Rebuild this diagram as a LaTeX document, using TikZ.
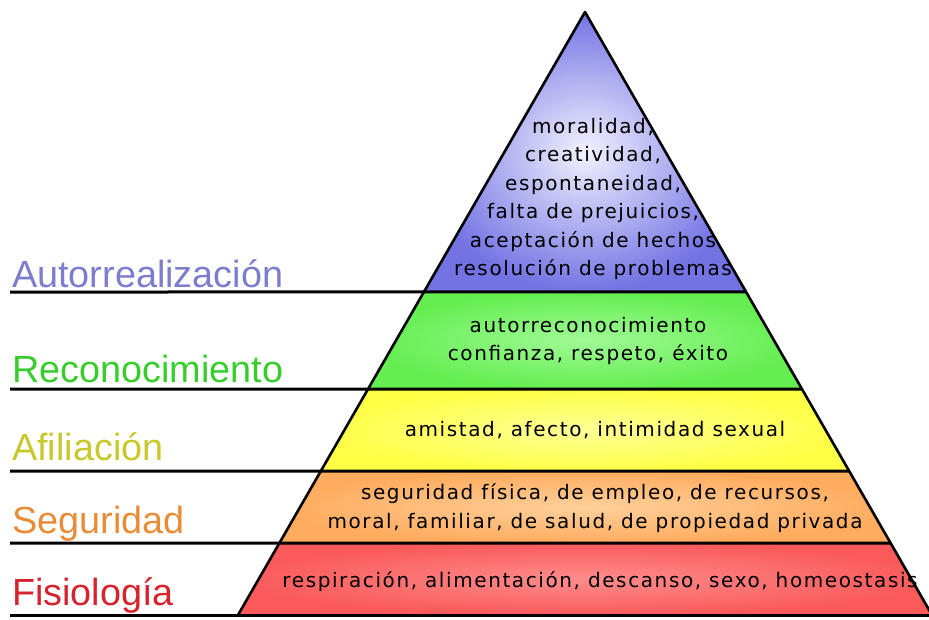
\documentclass[tikz,border=0pt]{standalone}
\usepackage{fontspec}
\setmainfont{DejaVu Sans}[LetterSpace=8]
\newfontfamily\labelfont{Liberation Sans}
\usetikzlibrary{calc}
\definecolor{blueO}{RGB}{115,115,228}
\definecolor{blueI}{RGB}{242,242,255}
\definecolor{greenO}{RGB}{100,238,80}
\definecolor{greenI}{RGB}{160,250,150}
\definecolor{yellowO}{RGB}{255,255,70}
\definecolor{yellowI}{RGB}{255,255,150}
\definecolor{orangeO}{RGB}{255,172,95}
\definecolor{orangeI}{RGB}{255,208,155}
\definecolor{redO}{RGB}{250,90,90}
\definecolor{redI}{RGB}{255,140,140}
\definecolor{lblBlue}{RGB}{125,125,205}
\definecolor{lblGreen}{RGB}{55,205,45}
\definecolor{lblYellow}{RGB}{200,200,45}
\definecolor{lblOrange}{RGB}{232,140,55}
\definecolor{lblRed}{RGB}{215,35,45}
\begin{document}
\begin{tikzpicture}[x=1pt,y=-1pt,
  levelline/.style={line width=3pt,black},
  edge/.style={line width=2.6pt,black,line cap=round,line join=round},
  lvltext/.style={align=center,font=\fontsize{20}{28.4}\selectfont,inner sep=0pt},
  lbl/.style={anchor=base west,inner sep=0pt,font=\labelfont\fontsize{37.8}{40}\selectfont}]
\useasboundingbox (0,0) rectangle (929,619);
\coordinate (A) at (585,12);
\coordinate (BL) at (238,615);
\coordinate (BR) at (932,615);
\coordinate (L1) at ($(A)!0.4643!(BL)$);
\coordinate (R1) at ($(A)!0.4643!(BR)$);
\coordinate (L2) at ($(A)!0.6252!(BL)$);
\coordinate (R2) at ($(A)!0.6252!(BR)$);
\coordinate (L3) at ($(A)!0.7612!(BL)$);
\coordinate (R3) at ($(A)!0.7612!(BR)$);
\coordinate (L4) at ($(A)!0.8806!(BL)$);
\coordinate (R4) at ($(A)!0.8806!(BR)$);
% bands
\shade[inner color=blueI,outer color=blueO] (A) -- (L1) -- (R1) -- cycle;
\shade[inner color=greenI,outer color=greenO] (L1) -- (L2) -- (R2) -- (R1) -- cycle;
\shade[inner color=yellowI,outer color=yellowO] (L2) -- (L3) -- (R3) -- (R2) -- cycle;
\shade[inner color=orangeI,outer color=orangeO] (L3) -- (L4) -- (R4) -- (R3) -- cycle;
\shade[inner color=redI,outer color=redO] (L4) -- (BL) -- (BR) -- (R4) -- cycle;
% left ends of level lines
\coordinate (S1) at (10,292);
\coordinate (S2) at (10,389);
\coordinate (S3) at (10,471);
\coordinate (S4) at (10,543);
\coordinate (S5) at (10,615);
\draw[levelline] (S1) -- (R1);
\draw[levelline] (S2) -- (R2);
\draw[levelline] (S3) -- (R3);
\draw[levelline] (S4) -- (R4);
\draw[levelline] (S5) -- (BR);
\draw[edge] (BL) -- (A) -- (BR);
% texts in the pyramid
\node[lvltext] (t1) at (593,199) {moralidad,\\creatividad,\\espontaneidad,\\falta de prejuicios,\\aceptación de hechos\\resolución de problemas};
\node[lvltext] (t2) at (588,341) {autorreconocimiento\\confianza, respeto, éxito};
\node[lvltext] (t3) at (595,430) {amistad, afecto, intimidad sexual};
\node[lvltext] (t4) at (595,508) {seguridad física, de empleo, de recursos,\\moral, familiar, de salud, de propiedad privada};
\node[lvltext] (t5) at (600,582) {respiración, alimentación, descanso, sexo, homeostasis};
% labels
\node[lbl,text=lblBlue] (n1) at (12,287) {Autorrealización};
\node[lbl,text=lblGreen] (n2) at (12,382) {Reconocimiento};
\node[lbl,text=lblYellow] (n3) at (12,460) {Afiliación};
\node[lbl,text=lblOrange] (n4) at (12,533) {Seguridad};
\node[lbl,text=lblRed] (n5) at (12,605) {Fisiología};
\end{tikzpicture}
\end{document}
